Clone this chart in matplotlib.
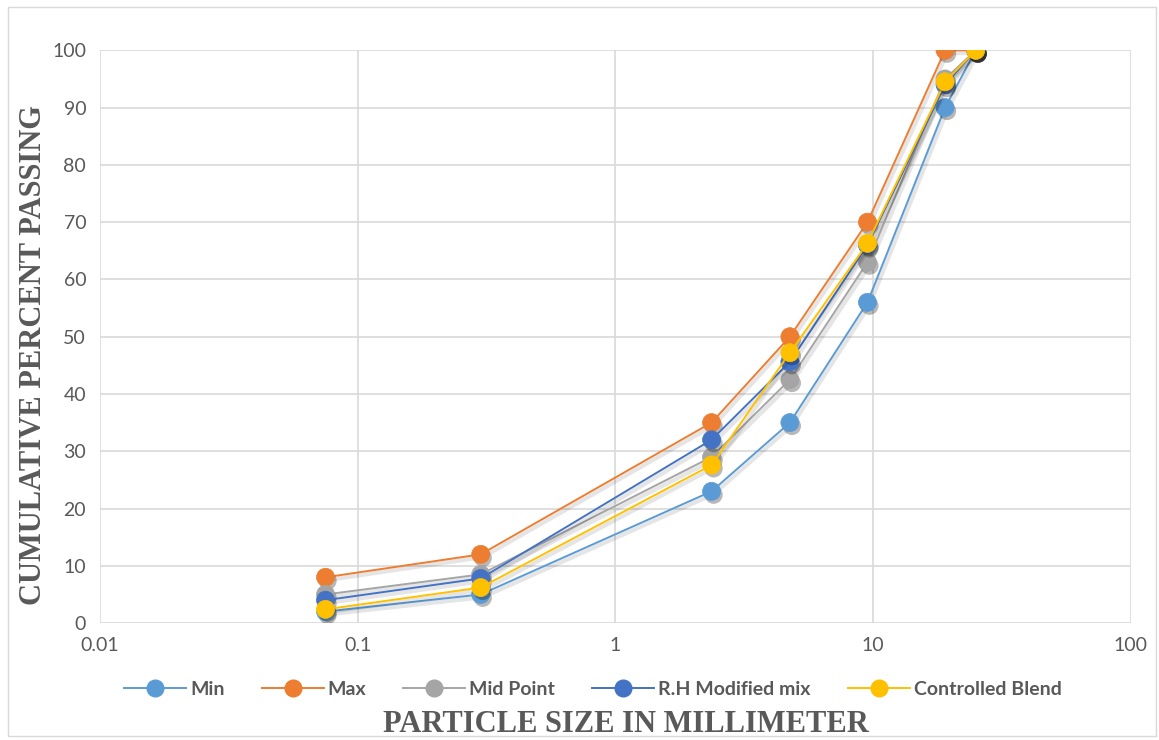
import matplotlib.pyplot as plt
import matplotlib.patheffects as pe
from matplotlib.lines import Line2D
from matplotlib.patches import Rectangle

# Sieve sizes (mm) and cumulative percent passing for each gradation
sieve_mm = [0.075, 0.3, 2.36, 4.75, 9.5, 19, 25]
min_pass = [2, 5, 23, 35, 56, 90, 100]
max_pass = [8, 12, 35, 50, 70, 100, 100]
mid_pass = [5, 8.5, 29, 42.5, 63, 95, 100]
rh_pass = [4, 7.8, 32, 45.6, 66, 94, 100]
blend_pass = [2.4, 6.2, 27.6, 47.2, 66.3, 94.5, 100]

series_names = ['Min', 'Max', 'Mid Point', 'R.H Modified mix', 'Controlled Blend']
series_values = [min_pass, max_pass, mid_pass, rh_pass, blend_pass]
series_colors = ['#5B9BD5', '#ED7D31', '#A5A5A5', '#4472C4', '#FFC000']

text_grey = '#595959'
plt.rcParams['font.family'] = ['Lato', 'DejaVu Sans']

fig = plt.figure(figsize=(11.59, 7.4), dpi=100)
ax = fig.add_axes([0.0863, 0.158, 0.8895, 0.774])

# thin frame round the whole chart
fig.patches.append(Rectangle((0.007, 0.005), 0.99, 0.985, transform=fig.transFigure,
                             fill=False, edgecolor='#D9D9D9', linewidth=1))

line_shadow = [pe.SimpleLineShadow(offset=(1.5, -2), shadow_color='k', alpha=0.1, linewidth=3),
               pe.Normal()]
dot_shadow = [pe.SimplePatchShadow(offset=(1.5, -2.5), shadow_rgbFace='k', alpha=0.28),
              pe.Normal()]

handles = []
for i, (name, vals, col) in enumerate(zip(series_names, series_values, series_colors)):
    ax.plot(sieve_mm, vals, '-', color=col, linewidth=1.4, zorder=3 + i,
            path_effects=line_shadow)
    ax.plot(sieve_mm, vals, 'o', color=col, markersize=13, markeredgecolor=col,
            markeredgewidth=0.5, zorder=3.5 + i, path_effects=dot_shadow)
    handles.append(Line2D([], [], color=col, linewidth=1.4, marker='o', markersize=12,
                          label=name))

ax.set_xscale('log')
ax.set_xlim(0.01, 100)
ax.set_ylim(0, 100)
ax.set_yticks(range(0, 101, 10))
ax.set_xticks([0.01, 0.1, 1, 10, 100])
ax.set_xticklabels(['0.01', '0.1', '1', '10', '100'])
ax.minorticks_off()

ax.grid(True, color='#D9D9D9', linewidth=1.2)
ax.set_axisbelow(True)
for s in ax.spines.values():
    s.set_visible(False)
ax.tick_params(length=0, labelsize=14, labelcolor=text_grey, pad=10)

ax.set_ylabel('CUMULATIVE PERCENT PASSING', fontsize=22, fontweight='bold',
              family='Liberation Serif', color=text_grey, labelpad=3)
ax.yaxis.label.set_y(0.468)
ax.set_xlabel('PARTICLE SIZE IN MILLIMETER', fontsize=22, fontweight='bold',
              family='Liberation Serif', color=text_grey, labelpad=40)
ax.xaxis.label.set_x(0.51)

leg = ax.legend(handles=handles, loc='upper center', bbox_to_anchor=(0.478, -0.07),
                ncol=5, frameon=False, handlelength=3.2, columnspacing=1.9,
                handletextpad=0.2, prop={'size': 14, 'weight': 'bold'})
for t in leg.get_texts():
    t.set_color(text_grey)

fig.savefig('out.png', dpi=100)
